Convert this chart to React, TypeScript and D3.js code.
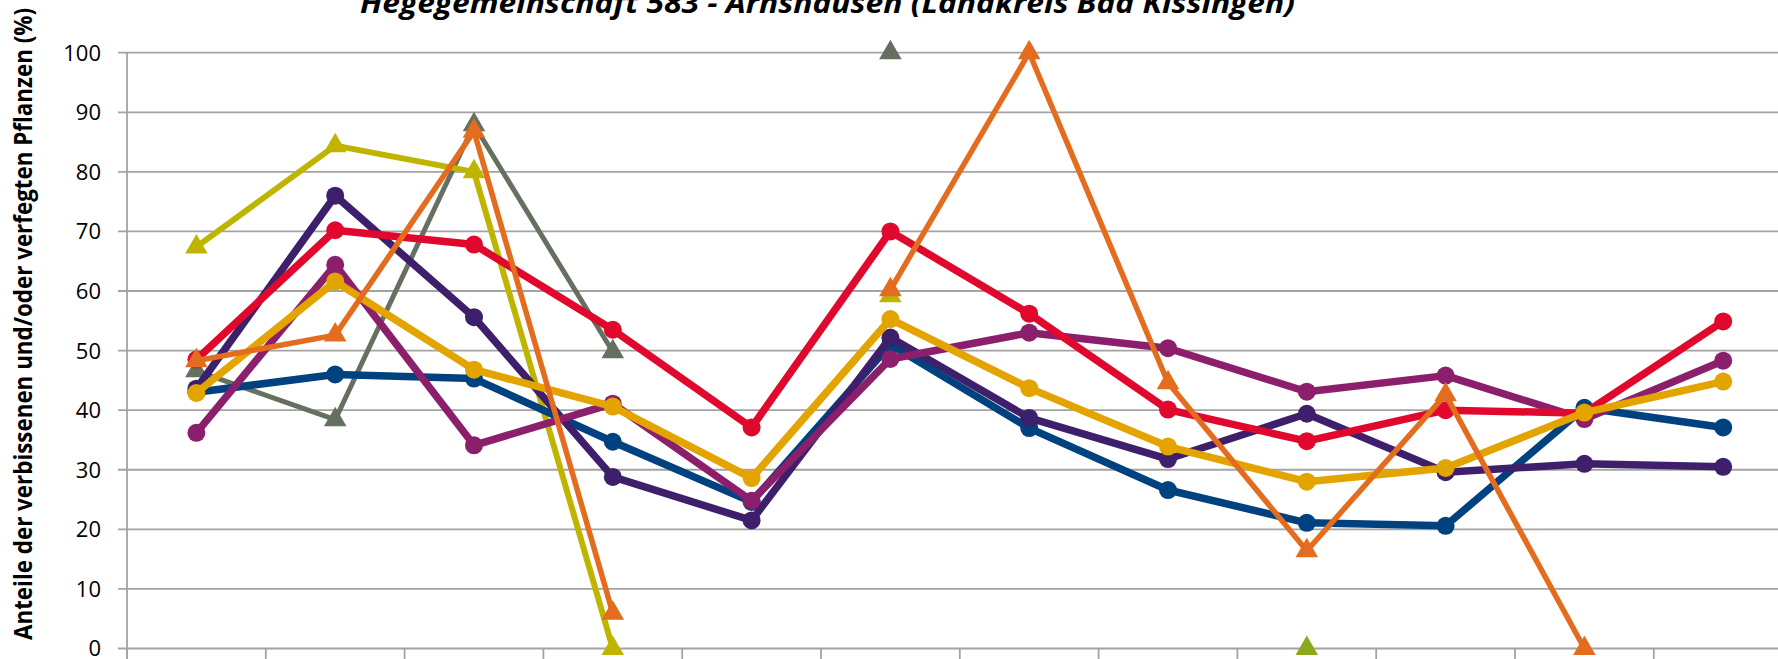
import React, { useEffect, useRef } from 'react';
import * as d3 from 'd3';

// survey years (x categories, labels are cut off below the visible area)
const years = ['1991', '1994', '1997', '2000', '2003', '2006', '2009', '2012', '2015', '2018', '2021', '2024'];
const yTicks = [0, 10, 20, 30, 40, 50, 60, 70, 80, 90, 100];

const seriesBlue = [43.0, 46.0, 45.3, 34.7, 24.6, 51.0, 37.0, 26.6, 21.1, 20.6, 40.4, 37.1];
const seriesPurple = [43.6, 76.0, 55.6, 28.8, 21.5, 52.2, 38.7, 31.8, 39.4, 29.6, 31.0, 30.5];
const seriesMagenta = [36.2, 64.4, 34.1, 41.1, 24.8, 48.6, 53.0, 50.4, 43.1, 45.8, 38.5, 48.3];
const seriesRed = [48.5, 70.2, 67.8, 53.5, 37.1, 70.0, 56.2, 40.1, 34.8, 40.0, 39.5, 54.9];
const seriesGold = [42.9, 61.6, 46.8, 40.6, 28.6, 55.3, 43.7, 33.9, 28.0, 30.3, 39.6, 44.8];
const seriesOlive = [67.4, 84.4, 80.0, 0, null, 59.2, null, null, null, null, null, null];
const seriesGrey = [46.6, 38.4, 87.9, 49.8, null, 100, null, null, null, null, null, null];
const seriesOrange = [48.3, 52.6, 86.8, 5.9, null, 60.2, 100, 44.6, 16.4, 42.6, 0, null];
const seriesGreen = [null, null, null, null, null, null, null, null, 0, null, null, null];

type Series = { values: (number | null)[]; color: string; shape: 'circle' | 'triangle'; width: number };

const series: Series[] = [
  { values: seriesGrey, color: '#667060', shape: 'triangle', width: 5 },
  { values: seriesOlive, color: '#bfb500', shape: 'triangle', width: 6 },
  { values: seriesBlue, color: '#00427f', shape: 'circle', width: 7.5 },
  { values: seriesPurple, color: '#3d1f6b', shape: 'circle', width: 7.5 },
  { values: seriesMagenta, color: '#8b1f6b', shape: 'circle', width: 7.5 },
  { values: seriesRed, color: '#e0082d', shape: 'circle', width: 7.5 },
  { values: seriesGold, color: '#e3a400', shape: 'circle', width: 7.5 },
  { values: seriesOrange, color: '#e46c1e', shape: 'triangle', width: 5.5 },
  { values: seriesGreen, color: '#8aa91c', shape: 'triangle', width: 5 },
];

const App: React.FC = () => {
  const svgRef = useRef<SVGSVGElement>(null);

  useEffect(() => {
    if (!svgRef.current) return;
    const width = 1778;
    const height = 659;
    const left = 127;
    const bandW = 138.8;

    const svg = d3.select(svgRef.current);
    svg.selectAll('*').remove();
    svg.attr('width', width).attr('height', height);

    const x = d3.scaleBand<string>().domain(years).range([left, left + bandW * years.length]).padding(0);
    const y = d3.scaleLinear().domain([0, 100]).range([648.5, 52.7]);
    const cx = (i: number) => (x(years[i]) as number) + x.bandwidth() / 2;

    // gridlines + y tick labels
    const grid = svg.append('g');
    grid.selectAll('line')
      .data(yTicks)
      .enter()
      .append('line')
      .attr('x1', 118)
      .attr('x2', width)
      .attr('y1', (d) => y(d))
      .attr('y2', (d) => y(d))
      .attr('stroke', '#a3a3a3')
      .attr('stroke-width', 1.8);

    grid.selectAll('text')
      .data(yTicks)
      .enter()
      .append('text')
      .attr('x', 101)
      .attr('y', (d) => y(d))
      .attr('dy', '0.36em')
      .attr('text-anchor', 'end')
      .attr('font-family', '"Open Sans", sans-serif')
      .attr('font-size', 22)
      .attr('fill', '#000')
      .text((d) => d);

    // y axis line and x ticks
    svg.append('line')
      .attr('x1', left).attr('x2', left)
      .attr('y1', y(100)).attr('y2', height)
      .attr('stroke', '#a3a3a3').attr('stroke-width', 1.8);

    svg.append('g')
      .selectAll('line')
      .data(d3.range(years.length + 1))
      .enter()
      .append('line')
      .attr('x1', (k) => left + k * bandW)
      .attr('x2', (k) => left + k * bandW)
      .attr('y1', y(0))
      .attr('y2', height)
      .attr('stroke', '#a3a3a3')
      .attr('stroke-width', 1.8);

    const line = d3.line<number | null>()
      .defined((d) => d !== null)
      .x((_, i) => cx(i))
      .y((d) => y(d as number));

    const tri = d3.symbol().type(d3.symbolTriangle).size(220);

    series.forEach((s) => {
      const g = svg.append('g');
      g.append('path')
        .attr('d', line(s.values) || '')
        .attr('fill', 'none')
        .attr('stroke', s.color)
        .attr('stroke-width', s.width)
        .attr('stroke-linejoin', 'round');

      const pts = s.values
        .map((v, i) => ({ v, i }))
        .filter((p) => p.v !== null);

      if (s.shape === 'circle') {
        g.selectAll('circle')
          .data(pts)
          .enter()
          .append('circle')
          .attr('cx', (p) => cx(p.i))
          .attr('cy', (p) => y(p.v as number))
          .attr('r', 9)
          .attr('fill', s.color);
      } else {
        g.selectAll('path.m')
          .data(pts)
          .enter()
          .append('path')
          .attr('class', 'm')
          .attr('d', tri() || '')
          .attr('transform', (p) => `translate(${cx(p.i)},${y(p.v as number)})`)
          .attr('fill', s.color);
      }
    });

    // title (cut off at top in the reference)
    svg.append('text')
      .attr('x', 827.5)
      .attr('y', 13)
      .attr('text-anchor', 'middle')
      .attr('font-family', '"Open Sans", sans-serif')
      .attr('font-weight', 'bold')
      .attr('font-style', 'italic')
      .attr('font-size', 28)
      .attr('textLength', 935)
      .attr('lengthAdjust', 'spacingAndGlyphs')
      .text('Hegegemeinschaft 583 - Arnshausen (Landkreis Bad Kissingen)');

    // y axis title
    svg.append('text')
      .attr('transform', 'translate(32,324) rotate(-90)')
      .attr('text-anchor', 'middle')
      .attr('font-family', '"Open Sans", sans-serif')
      .attr('font-weight', 'bold')
      .attr('font-size', 25)
      .attr('textLength', 632)
      .attr('lengthAdjust', 'spacingAndGlyphs')
      .text('Anteile der verbissenen und/oder verfegten Pflanzen (%)');
  }, []);

  return (
    <div style={{ position: 'absolute', left: 0, top: 0, background: '#fff' }}>
      <svg ref={svgRef} style={{ display: 'block' }}></svg>
    </div>
  );
};

export default App;
